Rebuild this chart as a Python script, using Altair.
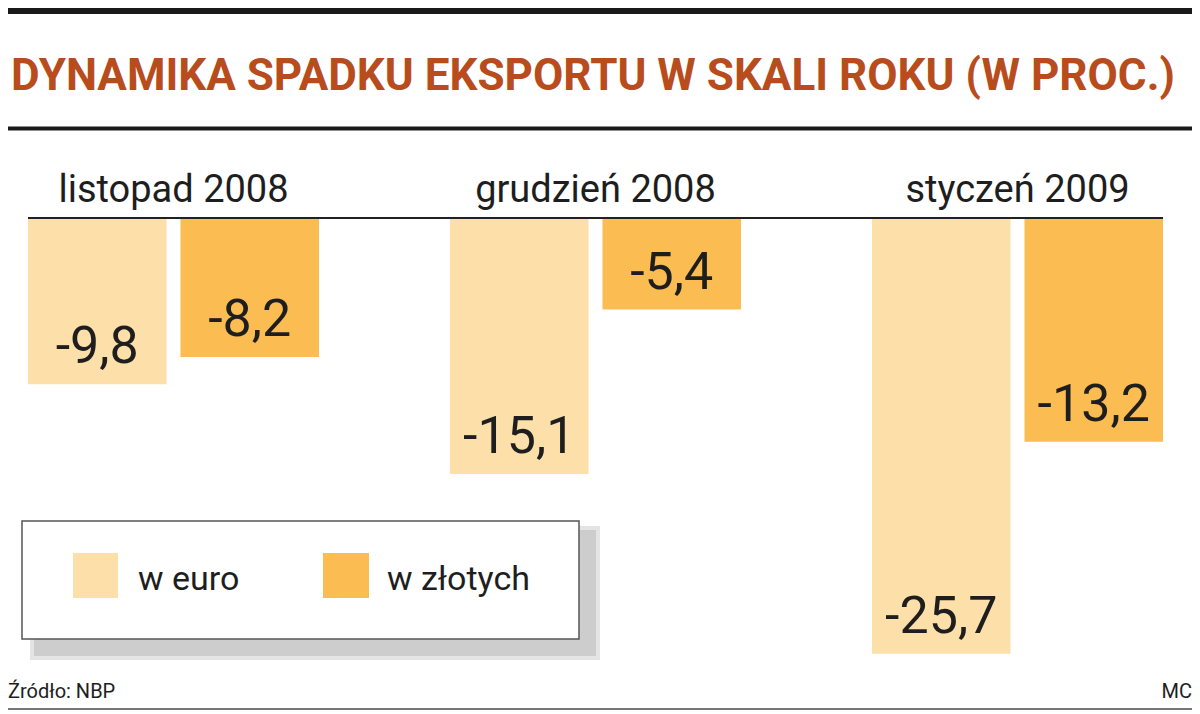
import altair as alt
import pandas as pd

# ---- data ----
months = ["listopad 2008", "grudzień 2008", "styczeń 2009"]
series = ["w euro", "w złotych"]
euro = [-9.8, -15.1, -25.7]
zloty = [-8.2, -5.4, -13.2]
colors = ["#fddfaa", "#fbbd52"]
title_text = "DYNAMIKA SPADKU EKSPORTU W SKALI ROKU (W PROC.)"
source_text = "Źródło: NBP"
author_text = "MC"

rows = []
for m, e, z in zip(months, euro, zloty):
    rows.append({"month": m, "series": series[0], "value": e})
    rows.append({"month": m, "series": series[1], "value": z})
df = pd.DataFrame(rows)
df["label"] = df["value"].map(lambda v: f"{v:.1f}".replace(".", ","))

FONT = "Roboto"
W, H = 1184, 704
TXT = "#1e1e1e"

xs = alt.Scale(domain=months, range=[20, 1155], paddingInner=131 / 422, paddingOuter=0)
xo = alt.Scale(domain=series, paddingInner=14 / 153, paddingOuter=0)
ys = alt.Scale(domain=[-30, 0], range=[718.8, 210])
cs = alt.Scale(domain=series, range=colors)

X = alt.X("month:N", scale=xs, axis=None, sort=months)
XO = alt.XOffset("series:N", scale=xo, sort=series)
Y = alt.Y("value:Q", scale=ys, axis=None)

base = alt.Chart(df)
bars = base.mark_bar(strokeWidth=0).encode(
    x=X, xOffset=XO, y=Y,
    color=alt.Color("series:N", scale=cs, legend=None),
)
values = base.mark_text(font=FONT, fontSize=52, color=TXT, baseline="alphabetic", dy=-21).encode(
    x=X, xOffset=XO, y=Y, text="label:N"
)

cat_df = pd.DataFrame({"month": months})
cats = alt.Chart(cat_df).mark_text(font=FONT, fontSize=38, color=TXT, baseline="alphabetic").encode(
    x=X, y=alt.value(194), text="month:N"
)

zero = alt.Chart(pd.DataFrame({"value": [0]})).mark_rule(color="#222", strokeWidth=2).encode(
    y=Y, x=alt.value(20), x2=alt.value(1155)
)

one = pd.DataFrame({"a": [0]})

def hrule(y, x1, x2, color, width):
    return alt.Chart(one).mark_rule(color=color, strokeWidth=width).encode(
        x=alt.value(x1), x2=alt.value(x2), y=alt.value(y)
    )

def rect(x1, x2, y1, y2, **kw):
    return alt.Chart(one).mark_rect(**kw).encode(
        x=alt.value(x1), x2=alt.value(x2), y=alt.value(y1), y2=alt.value(y2)
    )

def text(t, x, y, **kw):
    return alt.Chart(pd.DataFrame({"t": [t]})).mark_text(baseline="alphabetic", **kw).encode(
        x=alt.value(x), y=alt.value(y), text="t:N"
    )

top_line = hrule(2, -2, 1187, "#1a1a1a", 8)
mid_line = hrule(120.5, -2, 1187, "#1a1a1a", 4)
bottom_line = hrule(701, -2, 1187, "#777777", 2)

title = text(title_text, 3, 82, font=FONT, fontSize=44, fontWeight="bold", color="#b94c1c", align="left")
source = text(source_text, 0, 690, font=FONT, fontSize=20, color=TXT, align="left")
author = text(author_text, 1184, 690, font=FONT, fontSize=20, color=TXT, align="right")

# legend box with soft shadow
shadow_outer = rect(22, 592, 518, 652, color="#e4e4e4")
shadow_inner = rect(26, 588, 522, 648, color="#cdcdcd")
box = rect(14, 571, 513, 631, fill="white", stroke="#555555", strokeWidth=1.5)
sw1 = rect(65, 110, 545, 590, color=colors[0])
sw2 = rect(315, 361, 545, 590, color=colors[1])
lt1 = text(series[0], 130, 582, font=FONT, fontSize=34, color=TXT, align="left")
lt2 = text(series[1], 379, 582, font=FONT, fontSize=34, color=TXT, align="left")

chart = alt.layer(
    top_line, mid_line, bottom_line, title,
    bars, zero, values, cats,
    shadow_outer, shadow_inner, box, sw1, sw2, lt1, lt2,
    source, author,
).properties(
    width=W, height=H, padding=0, background="white",
    autosize=alt.AutoSizeParams(type="none"),
).configure_view(stroke=None)

chart.save("out.html", embed_options={"renderer": "svg", "actions": False})
